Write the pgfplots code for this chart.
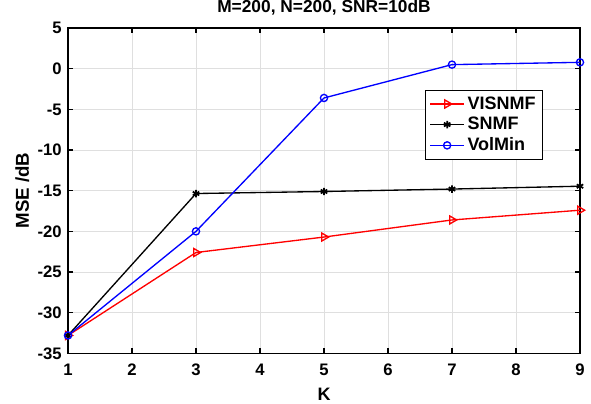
\documentclass[border=0pt]{standalone}
\usepackage{fontspec}
\setmainfont{Liberation Sans}
\usepackage{pgfplots}
\pgfplotsset{compat=1.18}

\begin{document}
\begin{tikzpicture}
\begin{axis}[
  name=main,
  scale only axis,
  width=384pt, height=244pt,
  xmin=1, xmax=9, ymin=-35, ymax=5,
  xtick={1,2,...,9}, ytick={-35,-30,...,5},
  tick align=inside,
  major tick length=3.75pt,
  tick style={black, line width=0.8pt},
  axis line style={line width=0.9pt},
  grid=major,
  major grid style={draw=gray!25, line width=0.7pt},
  /pgf/number format/assume math mode=true,
  tick label style={font=\bfseries\fontsize{12.5}{14}\selectfont},
  xticklabel style={anchor=base, yshift=-16.9pt, inner sep=0pt},
  yticklabel style={inner sep=0pt, xshift=-4.5pt},
  title={M=200, N=200, SNR=10dB},
  title style={at={(axis description cs:0.5,1)}, anchor=base, yshift=5.6pt, inner sep=0pt,
    font=\bfseries\fontsize{13}{15}\selectfont},
  xlabel={K}, ylabel={MSE /dB},
  xlabel style={at={(axis description cs:0.5,-0.1455)}, anchor=base, inner sep=0pt,
    font=\bfseries\fontsize{13.5}{15}\selectfont},
  ylabel style={at={(axis description cs:-0.0762,0.5)}, anchor=base, inner sep=0pt,
    font=\bfseries\fontsize{14}{16}\selectfont},
  legend style={at={(0.697,0.811)}, anchor=north west, draw=black, line width=0.8pt,
    font=\bfseries\fontsize{13.5}{16}\selectfont, row sep=0.5pt, inner xsep=3pt, inner ysep=3pt},
  legend cell align=left,
  legend image code/.code={\draw[mark repeat=2, mark phase=2, #1] plot coordinates {(0cm,0cm) (0.45cm,0cm) (0.9cm,0cm)};},
  every axis plot/.append style={line width=1pt},
]
\addplot[red, mark=triangle, mark options={rotate=-90, fill=white, solid}, mark size=3.5pt]
  coordinates {(1,-32.8) (3,-22.6) (5,-20.7) (7,-18.6) (9,-17.4)};
\addplot[black, mark=asterisk, mark options={solid, line width=1.3pt}, mark size=2.8pt]
  coordinates {(1,-32.8) (3,-15.35) (5,-15.1) (7,-14.8) (9,-14.45)};
\addplot[blue, mark=o, mark options={solid}, mark size=2.7pt]
  coordinates {(1,-32.8) (3,-20.0) (5,-3.6) (7,0.5) (9,0.78)};
\legend{VISNMF, SNMF, VolMin}
\end{axis}
\path (main.south west) ++(-51pt,-37.5pt) coordinate (bbl);
\path (main.north east) ++(8.25pt,19.9pt) coordinate (btr);
\useasboundingbox (bbl) rectangle (btr);
\end{tikzpicture}
\end{document}
